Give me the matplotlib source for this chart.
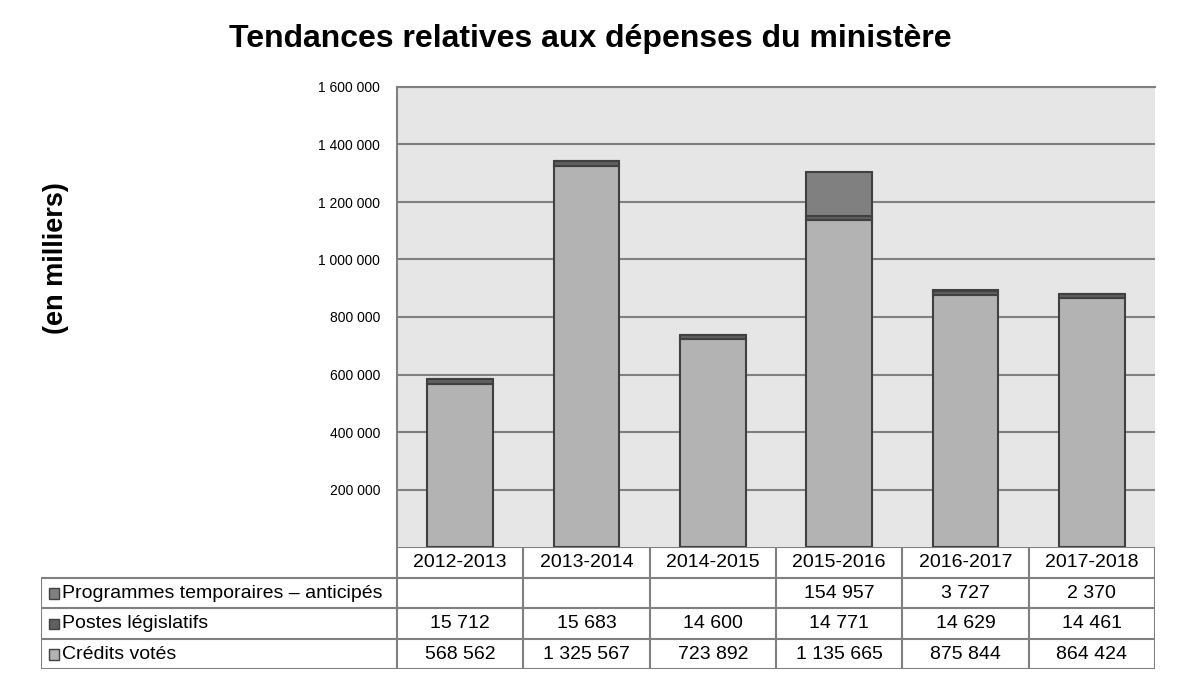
import matplotlib

matplotlib.use("Agg")
import matplotlib.pyplot as plt
from matplotlib.patches import Rectangle

plt.rcParams["font.family"] = ["Liberation Sans", "DejaVu Sans"]

YEARS = ["2012-2013", "2013-2014", "2014-2015", "2015-2016", "2016-2017", "2017-2018"]
CREDITS_VOTES = [568562, 1325567, 723892, 1135665, 875844, 864424]
POSTES_LEGISLATIFS = [15712, 15683, 14600, 14771, 14629, 14461]
PROGRAMMES_TEMP = [None, None, None, 154957, 3727, 2370]
SERIES_LABELS = ["Programmes temporaires – anticipés", "Postes législatifs", "Crédits votés"]
YTICKS = [200000, 400000, 600000, 800000, 1000000, 1200000, 1400000, 1600000]

C_VOTES, C_POSTES, C_PROG = "#b3b3b3", "#606060", "#808080"
EDGE = "#404040"
GRID = "#808080"

W, H = 1178, 679
fig = plt.figure(figsize=(W / 100, H / 100), dpi=100)


def px(x0, y0, x1, y1):
    return [x0 / W, 1 - y1 / H, (x1 - x0) / W, (y1 - y0) / H]


def fmt(v):
    return f"{v:,}".replace(",", " ")


# main plot
ax = fig.add_axes(px(397, 87, 1155, 547))
ax.set_facecolor("#e6e6e6")
ax.set_xlim(0, len(YEARS))
ax.set_ylim(0, 1600000)
xs = [i + 0.5 for i in range(len(YEARS))]
prog = [v or 0 for v in PROGRAMMES_TEMP]
bottom2 = [a + b for a, b in zip(CREDITS_VOTES, POSTES_LEGISLATIFS)]
ax.set_axisbelow(True)
ax.yaxis.grid(True, color=GRID, lw=1.5)
kw = dict(width=0.52, edgecolor=EDGE, linewidth=1.5, zorder=3)
ax.bar(xs, CREDITS_VOTES, color=C_VOTES, **kw)
ax.bar(xs, POSTES_LEGISLATIFS, bottom=CREDITS_VOTES, color=C_POSTES, **kw)
ax.bar(xs, prog, bottom=bottom2, color=C_PROG, **kw)
ax.set_yticks(YTICKS, [fmt(v) for v in YTICKS], fontsize=10)
ax.tick_params(axis="y", length=0, pad=12)
ax.set_xticks([])
for s in ["right", "bottom"]:
    ax.spines[s].set_visible(False)
ax.spines["top"].set_color(GRID)
ax.spines["top"].set_linewidth(1.5)
ax.spines["left"].set_color(GRID)
ax.spines["left"].set_linewidth(1.5)

# data table
lab_w = (397 - 41) / ((1155 - 397) / len(YEARS))
tb = fig.add_axes(px(41, 547, 1155, 669))
tb.set_xlim(-lab_w, len(YEARS))
tb.set_ylim(0, 4)
tb.axis("off")
lc = dict(color=GRID, lw=1.5, solid_capstyle="projecting")
tb.plot([0, len(YEARS)], [4, 4], **lc)
for y in [3, 2, 1, 0]:
    tb.plot([-lab_w, len(YEARS)], [y, y], **lc)
for i in range(len(YEARS) + 1):
    tb.plot([i, i], [0, 4], **lc)
tb.plot([-lab_w, -lab_w], [0, 3], **lc)

rows = [PROGRAMMES_TEMP, POSTES_LEGISLATIFS, CREDITS_VOTES]
colors = [C_PROG, C_POSTES, C_VOTES]
for i, yr in enumerate(YEARS):
    tb.text(i + 0.5, 3.48, yr, ha="center", va="center", fontsize=14)
for r, (lab, vals, col) in enumerate(zip(SERIES_LABELS, rows, colors)):
    yc = 2.48 - r
    tb.add_patch(Rectangle((-lab_w + 0.06, yc - 0.17), 0.08, 0.34,
                           facecolor=col, edgecolor=EDGE, lw=1, clip_on=False))
    tb.text(-lab_w + 0.165, yc, lab, ha="left", va="center", fontsize=14)
    for i, v in enumerate(vals):
        if v is not None:
            tb.text(i + 0.5, yc, fmt(v), ha="center", va="center", fontsize=14)

fig.text(590 / W, 1 - 39 / H, "Tendances relatives aux dépenses du ministère",
         ha="center", va="center", fontsize=23, fontweight="bold")
fig.text(56 / W, 1 - 258 / H, "(en milliers)", ha="center", va="center",
         rotation=90, fontsize=19.5, fontweight="bold")

fig.savefig("out.png", dpi=100)
